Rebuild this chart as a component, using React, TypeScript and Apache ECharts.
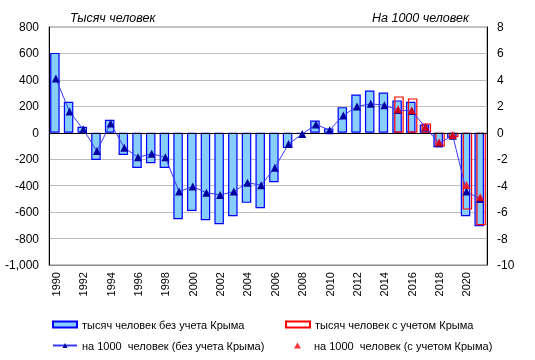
import React, { useEffect, useRef } from "react";
import * as echarts from "echarts";

const years: string[] = [];
for (let y = 1990; y <= 2021; y++) years.push(String(y));

const thousandsNoCrimea = [
  604, 234, 45, -206, 98, -168, -266, -231, -266, -654, -591, -661, -691, -631, -530, -571,
  -374, -116, -10, 93, 33, 194, 290, 320, 305, 245, 234, 63, -110, -38, -631, -706,
];

const thousandsWithCrimea: (number | string)[] = [
  "-", "-", "-", "-", "-", "-", "-", "-", "-", "-", "-", "-", "-", "-", "-", "-",
  "-", "-", "-", "-", "-", "-", "-", "-", "-", 275, 260, 71, -106, -32, -581, -699,
];

const per1000NoCrimea = [
  4.1, 1.6, 0.26, -1.38, 0.7, -1.13, -1.86, -1.58, -1.86, -4.45, -4.07, -4.53, -4.7, -4.45,
  -3.77, -3.97, -2.64, -0.85, -0.1, 0.63, 0.2, 1.31, 1.99, 2.19, 2.09, 1.72, 1.65, 0.42, -0.8,
  -0.22, -4.45, -5.0,
];

const per1000WithCrimea: (number | string)[] = [
  "-", "-", "-", "-", "-", "-", "-", "-", "-", "-", "-", "-", "-", "-", "-", "-",
  "-", "-", "-", "-", "-", "-", "-", "-", "-", 1.77, 1.71, 0.45, -0.72, -0.17, -3.95, -4.85,
];

const names = [
  "тысяч человек без учета Крыма",
  "тысяч человек с учетом Крыма",
  "на 1000  человек (без учета Крыма)",
  "на 1000  человек (с учетом Крыма)",
];

const FONT = "'Liberation Sans', Arial, sans-serif";

export default function App() {
  const ref = useRef<HTMLDivElement>(null);
  useEffect(() => {
    if (!ref.current) return;
    const chart = echarts.init(ref.current, undefined, { renderer: "svg" });
    const legendText = { fontFamily: FONT, fontSize: 11, color: "#000" };
    chart.setOption({
      animation: false,
      textStyle: { fontFamily: FONT },
      title: [
        {
          text: "Тысяч человек",
          left: 65,
          top: 6,
          textStyle: { fontFamily: FONT, fontSize: 12.5, fontStyle: "italic", fontWeight: "normal", color: "#000" },
        },
        {
          text: "На 1000 человек",
          left: 367,
          top: 6,
          textStyle: { fontFamily: FONT, fontSize: 12.5, fontStyle: "italic", fontWeight: "normal", color: "#000" },
        },
      ],
      legend: [
        { data: [names[0]], icon: "rect", left: 52, top: 319, itemWidth: 24, itemHeight: 6, itemGap: 0, textStyle: legendText, padding: 0 },
        { data: [names[1]], icon: "rect", left: 285, top: 319, itemWidth: 24, itemHeight: 6, itemGap: 0, textStyle: legendText, padding: 0 },
        { data: [names[2]], left: 52, top: 340, itemWidth: 24, itemHeight: 6, itemGap: 0, textStyle: legendText, padding: 0 },
        {
          data: [names[3]],
          icon: "triangle",
          left: 294,
          top: 340,
          itemWidth: 7,
          itemHeight: 6,
          itemGap: 0,
          textStyle: { ...legendText, padding: [0, 0, 0, 8] },
          padding: 0,
        },
      ],
      grid: {
        left: 49,
        right: 48,
        top: 27,
        bottom: 95,
        show: true,
        borderColor: "#888",
        borderWidth: 1,
        containLabel: false,
      },
      xAxis: {
        type: "category",
        data: years,
        boundaryGap: true,
        axisLine: { show: true, onZero: false, lineStyle: { color: "#888" } },
        axisTick: { show: false },
        axisLabel: { rotate: 90, interval: 1, fontSize: 11, color: "#000", margin: 7, fontFamily: FONT },
        splitLine: { show: false },
      },
      yAxis: [
        {
          type: "value",
          min: -1000,
          max: 800,
          interval: 200,
          position: "left",
          axisLine: { show: true, lineStyle: { color: "#000" } },
          axisTick: { show: false },
          axisLabel: { fontSize: 12, color: "#000", margin: 10, fontFamily: FONT },
          splitLine: { show: true, lineStyle: { color: "#BEBEBE", width: 1 } },
        },
        {
          type: "value",
          min: -10,
          max: 8,
          interval: 2,
          position: "right",
          axisLine: { show: true, lineStyle: { color: "#000" } },
          axisTick: { show: false },
          axisLabel: { fontSize: 12, color: "#000", margin: 10, fontFamily: FONT },
          splitLine: { show: false },
        },
      ],
      series: [
        {
          name: names[0],
          type: "bar",
          yAxisIndex: 0,
          data: thousandsNoCrimea,
          barWidth: 9.5,
          barGap: "-80%",
          itemStyle: { color: "#87CEFA", borderColor: "#0000FF", borderWidth: 1.2 },
        },
        {
          name: names[1],
          type: "bar",
          yAxisIndex: 0,
          data: thousandsWithCrimea,
          barWidth: 9.5,
          barGap: "-80%",
          itemStyle: { color: "rgba(0,0,0,0)", borderColor: "#FF0000", borderWidth: 1.2 },
          markLine: {
            silent: true,
            symbol: "none",
            label: { show: false },
            lineStyle: { color: "#000", width: 1, type: "solid" },
            data: [{ yAxis: 0 }],
          },
        },
        {
          name: names[2],
          type: "line",
          yAxisIndex: 1,
          data: per1000NoCrimea,
          symbol: "triangle",
          symbolSize: 8,
          lineStyle: { color: "#3A3AFF", width: 1 },
          itemStyle: { color: "#0000A0" },
          z: 5,
        },
        {
          name: names[3],
          type: "scatter",
          yAxisIndex: 1,
          data: per1000WithCrimea,
          symbol: "triangle",
          symbolSize: 8,
          itemStyle: { color: "#FF0000" },
          z: 6,
        },
      ],
    });
    return () => chart.dispose();
  }, []);
  return <div ref={ref} style={{ position: "fixed", left: 0, top: 0, width: 535, height: 360 }} />;
}
